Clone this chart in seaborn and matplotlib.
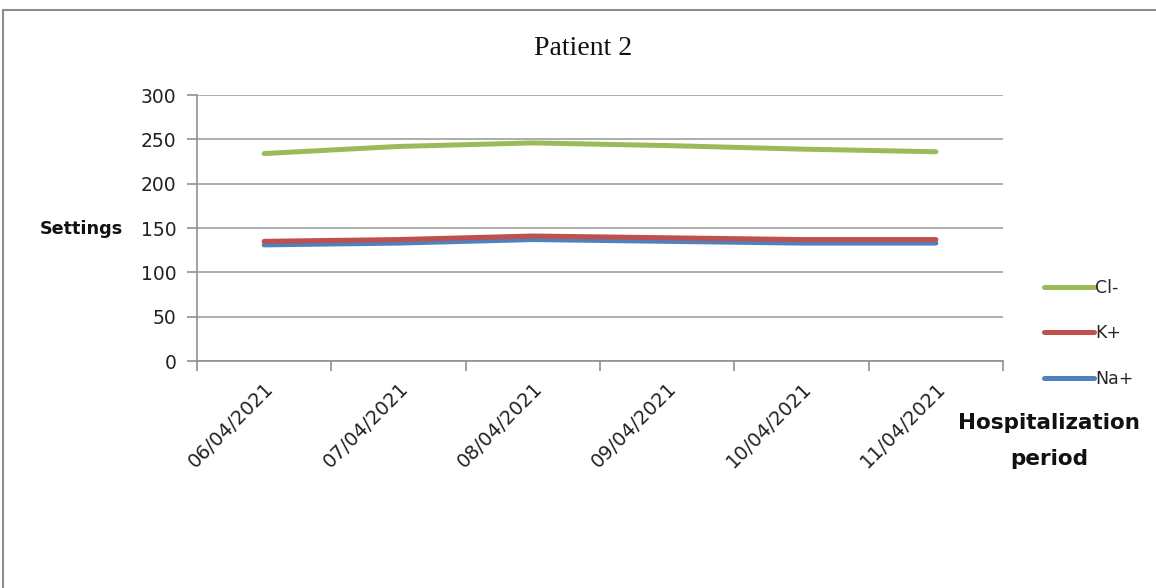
import matplotlib
matplotlib.use("Agg")
import matplotlib.pyplot as plt
from matplotlib.lines import Line2D
import seaborn as sns
import pandas as pd
import numpy as np

# Electrolyte readings over the hospital stay
dates = ["06/04/2021", "07/04/2021", "08/04/2021", "09/04/2021", "10/04/2021", "11/04/2021"]
cl_values = [234, 242, 246, 243, 239, 236]
k_values = [135, 137, 141, 139, 137, 137]
na_values = [131, 133, 137, 135, 133, 133]
series_names = ["Na+", "K+", "Cl-"]
series_colors = {"Na+": "#4F81BD", "K+": "#C0504D", "Cl-": "#9BBB59"}
y_ticks = [0, 50, 100, 150, 200, 250, 300]

frames = []
for name, vals in zip(series_names, [na_values, k_values, cl_values]):
    frames.append(pd.DataFrame({"idx": np.arange(len(dates)), "value": vals, "ion": name}))
df = pd.concat(frames, ignore_index=True)

sns.set_style("white")
plt.rcParams["font.family"] = ["DejaVu Sans"]

fig = plt.figure(figsize=(11.56, 5.88), dpi=100)
ax = fig.add_axes([0.1704, 0.386, 0.6973, 0.4524])

sns.lineplot(data=df, x="idx", y="value", hue="ion", hue_order=series_names,
             palette=series_colors, linewidth=3.6, ax=ax, legend=False,
             solid_capstyle="round")

ax.set_xlim(-0.5, len(dates) - 0.5)
ax.set_ylim(0, 300)
ax.set_yticks(y_ticks)
ax.set_yticklabels([str(v) for v in y_ticks], fontsize=13.5, color="#222222")
ax.yaxis.grid(True, color="#a0a0a0", linewidth=1.2)
ax.set_axisbelow(True)

# Tick marks sit between categories; labels sit at category centres
ax.set_xticks(np.arange(-0.5, len(dates), 1.0))
ax.set_xticklabels([])
ax.set_xticks(np.arange(len(dates)), minor=True)
ax.set_xticklabels(dates, minor=True, rotation=45, ha="right",
                   rotation_mode="anchor", fontsize=14, color="#222222")
ax.tick_params(axis="x", which="major", direction="out", length=7, width=1.2,
               color="#909090", bottom=True)
ax.tick_params(axis="x", which="minor", length=0, pad=13)
ax.tick_params(axis="y", direction="out", length=7, width=1.2, color="#909090",
               left=True, pad=8)

for side in ["top", "right"]:
    ax.spines[side].set_visible(False)
for side in ["left", "bottom"]:
    ax.spines[side].set_color("#909090")
    ax.spines[side].set_linewidth(1.2)

ax.set_xlabel("")
ax.set_ylabel("")

fig.text(0.5045, 0.918, "Patient 2", ha="center", va="center",
         fontsize=20, family="Liberation Serif", color="#111111")
fig.text(0.0345, 0.61, "Settings", ha="left", va="center",
         fontsize=12.7, fontweight="bold", color="#111111")
fig.text(0.9074, 0.25, "Hospitalization\nperiod", ha="center", va="center",
         fontsize=15.5, fontweight="bold", color="#111111", linespacing=1.95)

handles = [Line2D([], [], color=series_colors[n], linewidth=3.6) for n in ["Cl-", "K+", "Na+"]]
fig.legend(handles, ["Cl-", "K+", "Na+"], loc="upper left",
           bbox_to_anchor=(0.897, 0.538), frameon=False, fontsize=12.5,
           handlelength=2.9, handletextpad=0.05, labelspacing=1.6,
           borderaxespad=0)

# Outer chart frame
fig.add_artist(Line2D([0.0028, 0.0028], [0.0, 0.983], color="#8c8c8c", linewidth=1.5,
                      transform=fig.transFigure))
fig.add_artist(Line2D([0.0028, 1.0], [0.983, 0.983], color="#8c8c8c", linewidth=1.5,
                      transform=fig.transFigure))

fig.savefig("out.png", dpi=100)
